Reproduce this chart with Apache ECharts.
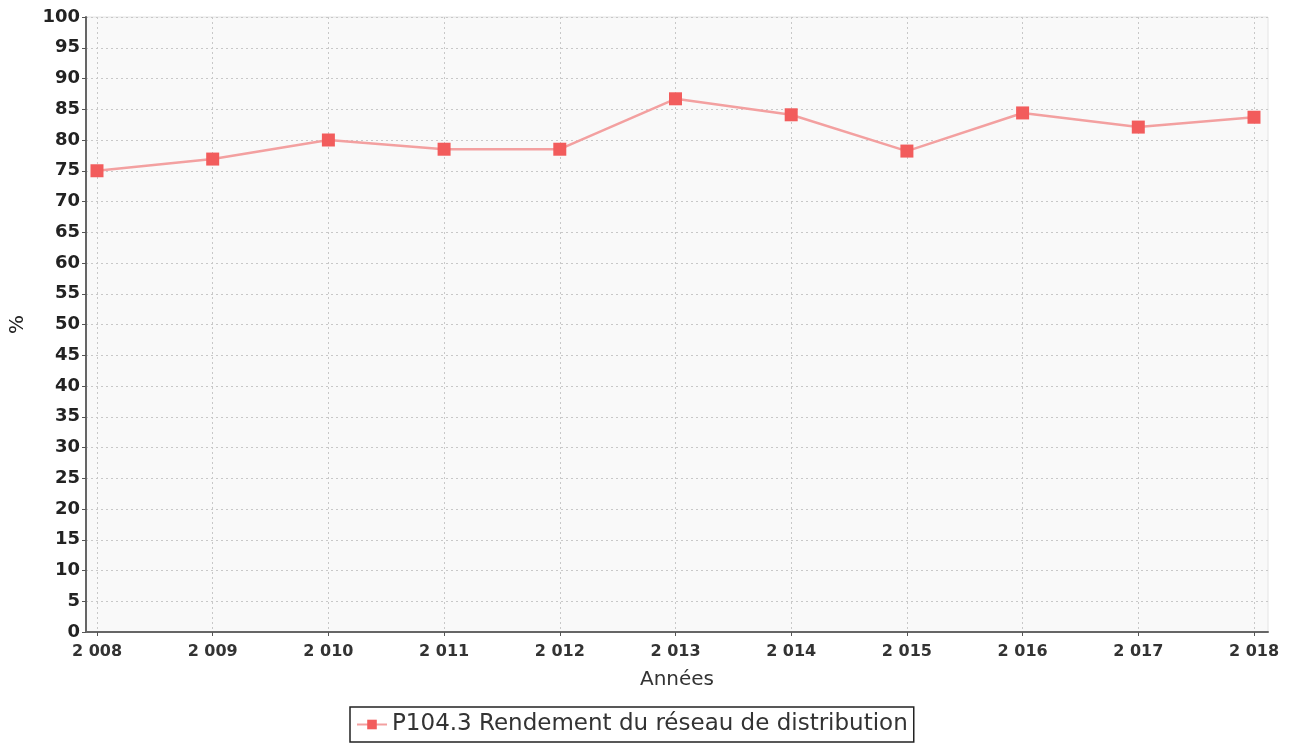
<!DOCTYPE html>
<html>
<head>
<meta charset="utf-8">
<script src="https://cdn.jsdelivr.net/npm/echarts@6/dist/echarts.min.js"></script>
<style>
html,body{margin:0;padding:0;background:#fff;}
#chart{width:1297px;height:746px;}
</style>
</head>
<body>
<div id="chart"></div>
<script>
const years = [2008, 2009, 2010, 2011, 2012, 2013, 2014, 2015, 2016, 2017, 2018];
const rendement = [75.0, 76.9, 80.0, 78.5, 78.5, 86.7, 84.1, 78.2, 84.4, 82.1, 83.7];
const seriesName = 'P104.3 Rendement du réseau de distribution';
const xName = 'Années';
const yName = '%';

const chart = echarts.init(document.getElementById('chart'), null, {renderer: 'canvas'});
const fmtYear = v => String(Math.round(v)).replace(/^(\d)(\d{3})$/, '$1 $2');

chart.setOption({
  animation: false,
  backgroundColor: '#ffffff',
  grid: {
    left: 86, top: 17, right: 29, bottom: 114,
    containLabel: false, outerBoundsMode: 'none',
    show: true, backgroundColor: '#f9f9f9', borderColor: '#e4e4e4', borderWidth: 1
  },
  xAxis: {
    type: 'value',
    min: 2007.905, max: 2018.121,
    name: xName, nameLocation: 'middle', nameGap: 38,
    nameTextStyle: {fontFamily: 'DejaVu Sans', fontSize: 20, color: '#333'},
    axisLine: {show: true, onZero: false, lineStyle: {color: '#666', width: 2}},
    axisTick: {show: true, customValues: years, length: 4, lineStyle: {color: '#555'}},
    axisLabel: {customValues: years, formatter: fmtYear, fontFamily: 'DejaVu Sans', fontWeight: 'bold', fontSize: 16, color: '#333', margin: 12},
    splitLine: {show: true, lineStyle: {color: '#c8c8c8', type: [2, 3], width: 1}}
  },
  yAxis: {
    type: 'value', min: 0, max: 100, interval: 5,
    name: yName, nameLocation: 'middle', nameGap: 58, nameRotate: 90,
    nameTextStyle: {fontFamily: 'DejaVu Sans', fontSize: 20, color: '#222'},
    axisLine: {show: true, lineStyle: {color: '#666', width: 2}},
    axisTick: {show: true, length: 4, lineStyle: {color: '#555'}},
    axisLabel: {fontFamily: 'DejaVu Sans', fontWeight: 'bold', fontSize: 18, color: '#222', margin: 6},
    splitLine: {show: true, lineStyle: {color: '#c8c8c8', type: [2, 3], width: 1}}
  },
  legend: {
    data: [seriesName],
    left: 350, top: 707,
    borderColor: '#222', borderWidth: 1.5, borderRadius: 0,
    padding: [6, 6, 6, 6],
    itemWidth: 30, itemHeight: 12, itemGap: 6,
    textStyle: {fontFamily: 'DejaVu Sans', fontSize: 23, color: '#333'}
  },
  series: [{
    name: seriesName,
    type: 'line',
    data: years.map((y, i) => [y, rendement[i]]),
    symbol: 'rect', symbolSize: 13,
    itemStyle: {color: '#f25c5c'},
    lineStyle: {color: '#f3a0a0', width: 2.5}
  }]
});
</script>
</body>
</html>
